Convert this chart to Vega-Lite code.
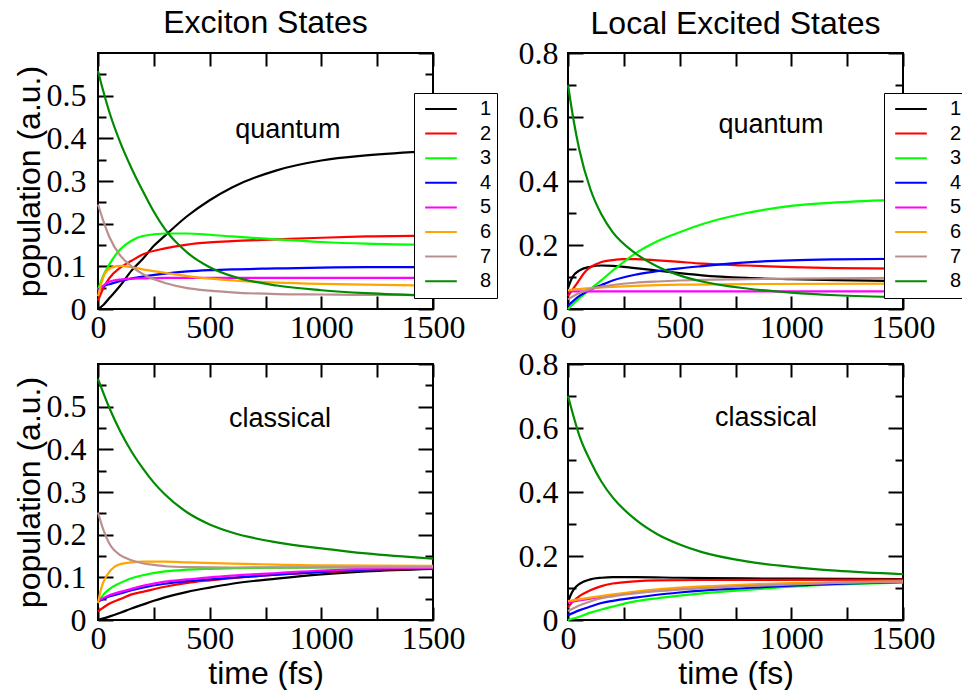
{
"$schema": "https://vega.github.io/schema/vega-lite/v6.json",
"padding": {"left": 12, "top": 6, "right": 0, "bottom": 0},
"background": "white",
"bounds": "flush",
"columns": 2,
"spacing": {"row": 55, "column": 135},
"resolve": {"legend": {"color": "independent"}},
"config": {
  "view": {"stroke": "black", "strokeWidth": 2},
  "axis": {"domain": false, "grid": false, "tickColor": "black", "tickWidth": 2, "labelColor": "black", "labelFont": "Liberation Serif", "labelFontSize": 32, "titleFont": "Liberation Sans", "titleFontSize": 32, "titleFontWeight": "normal", "titleColor": "black", "labelFlush": false, "labelOverlap": false},
  "title": {"font": "Liberation Sans", "fontSize": 32, "fontWeight": "normal", "color": "black", "anchor": "middle", "frame": "group", "baseline": "alphabetic"},
  "legend": {"orient": "none", "legendX": 316, "legendY": 40, "title": null, "symbolType": "stroke", "symbolStrokeWidth": 2, "symbolSize": 1000, "symbolOffset": 5, "clipHeight": 22, "labelFont": "Liberation Sans", "labelFontSize": 20, "labelColor": "black", "labelOffset": 22, "strokeColor": "black", "fillColor": "white", "padding": 5, "rowPadding": 2.6}
},
"datasets": {"d": [
{"p":"EQ","s":"1","t":0,"v":0},{"p":"EQ","s":"1","t":25,"v":0.01},{"p":"EQ","s":"1","t":50,"v":0.025},{"p":"EQ","s":"1","t":100,"v":0.055},{"p":"EQ","s":"1","t":150,"v":0.09},{"p":"EQ","s":"1","t":200,"v":0.117},{"p":"EQ","s":"1","t":250,"v":0.148},{"p":"EQ","s":"1","t":300,"v":0.172},{"p":"EQ","s":"1","t":400,"v":0.218},{"p":"EQ","s":"1","t":500,"v":0.255},{"p":"EQ","s":"1","t":600,"v":0.285},{"p":"EQ","s":"1","t":800,"v":0.325},{"p":"EQ","s":"1","t":1000,"v":0.348},{"p":"EQ","s":"1","t":1200,"v":0.36},{"p":"EQ","s":"1","t":1500,"v":0.37},
{"p":"EQ","s":"2","t":0,"v":0.02},{"p":"EQ","s":"2","t":25,"v":0.05},{"p":"EQ","s":"2","t":50,"v":0.072},{"p":"EQ","s":"2","t":100,"v":0.097},{"p":"EQ","s":"2","t":150,"v":0.113},{"p":"EQ","s":"2","t":200,"v":0.128},{"p":"EQ","s":"2","t":300,"v":0.142},{"p":"EQ","s":"2","t":400,"v":0.151},{"p":"EQ","s":"2","t":500,"v":0.156},{"p":"EQ","s":"2","t":600,"v":0.159},{"p":"EQ","s":"2","t":800,"v":0.163},{"p":"EQ","s":"2","t":1000,"v":0.167},{"p":"EQ","s":"2","t":1200,"v":0.17},{"p":"EQ","s":"2","t":1500,"v":0.172},
{"p":"EQ","s":"3","t":0,"v":0.045},{"p":"EQ","s":"3","t":25,"v":0.08},{"p":"EQ","s":"3","t":50,"v":0.104},{"p":"EQ","s":"3","t":100,"v":0.14},{"p":"EQ","s":"3","t":150,"v":0.16},{"p":"EQ","s":"3","t":200,"v":0.171},{"p":"EQ","s":"3","t":300,"v":0.177},{"p":"EQ","s":"3","t":400,"v":0.177},{"p":"EQ","s":"3","t":500,"v":0.174},{"p":"EQ","s":"3","t":600,"v":0.17},{"p":"EQ","s":"3","t":800,"v":0.163},{"p":"EQ","s":"3","t":1000,"v":0.157},{"p":"EQ","s":"3","t":1200,"v":0.153},{"p":"EQ","s":"3","t":1500,"v":0.15},
{"p":"EQ","s":"4","t":0,"v":0.045},{"p":"EQ","s":"4","t":25,"v":0.054},{"p":"EQ","s":"4","t":50,"v":0.058},{"p":"EQ","s":"4","t":100,"v":0.066},{"p":"EQ","s":"4","t":200,"v":0.076},{"p":"EQ","s":"4","t":300,"v":0.083},{"p":"EQ","s":"4","t":400,"v":0.088},{"p":"EQ","s":"4","t":500,"v":0.091},{"p":"EQ","s":"4","t":600,"v":0.093},{"p":"EQ","s":"4","t":800,"v":0.095},{"p":"EQ","s":"4","t":1000,"v":0.097},{"p":"EQ","s":"4","t":1200,"v":0.098},{"p":"EQ","s":"4","t":1500,"v":0.098},
{"p":"EQ","s":"5","t":0,"v":0.04},{"p":"EQ","s":"5","t":25,"v":0.055},{"p":"EQ","s":"5","t":50,"v":0.064},{"p":"EQ","s":"5","t":100,"v":0.069},{"p":"EQ","s":"5","t":200,"v":0.072},{"p":"EQ","s":"5","t":300,"v":0.073},{"p":"EQ","s":"5","t":500,"v":0.073},{"p":"EQ","s":"5","t":1000,"v":0.073},{"p":"EQ","s":"5","t":1500,"v":0.073},
{"p":"EQ","s":"6","t":0,"v":0.03},{"p":"EQ","s":"6","t":15,"v":0.06},{"p":"EQ","s":"6","t":30,"v":0.082},{"p":"EQ","s":"6","t":60,"v":0.097},{"p":"EQ","s":"6","t":100,"v":0.101},{"p":"EQ","s":"6","t":150,"v":0.098},{"p":"EQ","s":"6","t":200,"v":0.093},{"p":"EQ","s":"6","t":300,"v":0.085},{"p":"EQ","s":"6","t":400,"v":0.077},{"p":"EQ","s":"6","t":500,"v":0.071},{"p":"EQ","s":"6","t":600,"v":0.067},{"p":"EQ","s":"6","t":800,"v":0.062},{"p":"EQ","s":"6","t":1000,"v":0.059},{"p":"EQ","s":"6","t":1200,"v":0.057},{"p":"EQ","s":"6","t":1500,"v":0.055},
{"p":"EQ","s":"7","t":0,"v":0.245},{"p":"EQ","s":"7","t":25,"v":0.205},{"p":"EQ","s":"7","t":50,"v":0.17},{"p":"EQ","s":"7","t":100,"v":0.125},{"p":"EQ","s":"7","t":150,"v":0.1},{"p":"EQ","s":"7","t":200,"v":0.082},{"p":"EQ","s":"7","t":250,"v":0.07},{"p":"EQ","s":"7","t":300,"v":0.061},{"p":"EQ","s":"7","t":400,"v":0.049},{"p":"EQ","s":"7","t":500,"v":0.043},{"p":"EQ","s":"7","t":600,"v":0.039},{"p":"EQ","s":"7","t":800,"v":0.035},{"p":"EQ","s":"7","t":1000,"v":0.034},{"p":"EQ","s":"7","t":1200,"v":0.033},{"p":"EQ","s":"7","t":1500,"v":0.033},
{"p":"EQ","s":"8","t":0,"v":0.558},{"p":"EQ","s":"8","t":25,"v":0.508},{"p":"EQ","s":"8","t":50,"v":0.463},{"p":"EQ","s":"8","t":100,"v":0.39},{"p":"EQ","s":"8","t":150,"v":0.33},{"p":"EQ","s":"8","t":200,"v":0.277},{"p":"EQ","s":"8","t":250,"v":0.228},{"p":"EQ","s":"8","t":300,"v":0.187},{"p":"EQ","s":"8","t":400,"v":0.132},{"p":"EQ","s":"8","t":500,"v":0.098},{"p":"EQ","s":"8","t":600,"v":0.077},{"p":"EQ","s":"8","t":800,"v":0.055},{"p":"EQ","s":"8","t":1000,"v":0.044},{"p":"EQ","s":"8","t":1200,"v":0.037},{"p":"EQ","s":"8","t":1500,"v":0.031},

{"p":"LQ","s":"1","t":0,"v":0.065},{"p":"LQ","s":"1","t":20,"v":0.1},{"p":"LQ","s":"1","t":50,"v":0.12},{"p":"LQ","s":"1","t":100,"v":0.132},{"p":"LQ","s":"1","t":150,"v":0.136},{"p":"LQ","s":"1","t":200,"v":0.135},{"p":"LQ","s":"1","t":300,"v":0.128},{"p":"LQ","s":"1","t":400,"v":0.12},{"p":"LQ","s":"1","t":500,"v":0.112},{"p":"LQ","s":"1","t":600,"v":0.105},{"p":"LQ","s":"1","t":800,"v":0.097},{"p":"LQ","s":"1","t":1000,"v":0.093},{"p":"LQ","s":"1","t":1200,"v":0.09},{"p":"LQ","s":"1","t":1500,"v":0.087},
{"p":"LQ","s":"2","t":0,"v":0.04},{"p":"LQ","s":"2","t":25,"v":0.065},{"p":"LQ","s":"2","t":50,"v":0.09},{"p":"LQ","s":"2","t":75,"v":0.115},{"p":"LQ","s":"2","t":100,"v":0.13},{"p":"LQ","s":"2","t":150,"v":0.147},{"p":"LQ","s":"2","t":200,"v":0.153},{"p":"LQ","s":"2","t":250,"v":0.156},{"p":"LQ","s":"2","t":300,"v":0.156},{"p":"LQ","s":"2","t":400,"v":0.152},{"p":"LQ","s":"2","t":500,"v":0.147},{"p":"LQ","s":"2","t":600,"v":0.142},{"p":"LQ","s":"2","t":800,"v":0.136},{"p":"LQ","s":"2","t":1000,"v":0.131},{"p":"LQ","s":"2","t":1200,"v":0.128},{"p":"LQ","s":"2","t":1500,"v":0.126},
{"p":"LQ","s":"3","t":0,"v":0},{"p":"LQ","s":"3","t":50,"v":0.033},{"p":"LQ","s":"3","t":100,"v":0.062},{"p":"LQ","s":"3","t":150,"v":0.09},{"p":"LQ","s":"3","t":200,"v":0.12},{"p":"LQ","s":"3","t":250,"v":0.147},{"p":"LQ","s":"3","t":300,"v":0.173},{"p":"LQ","s":"3","t":400,"v":0.212},{"p":"LQ","s":"3","t":500,"v":0.24},{"p":"LQ","s":"3","t":600,"v":0.265},{"p":"LQ","s":"3","t":800,"v":0.3},{"p":"LQ","s":"3","t":1000,"v":0.322},{"p":"LQ","s":"3","t":1200,"v":0.333},{"p":"LQ","s":"3","t":1500,"v":0.342},
{"p":"LQ","s":"4","t":0,"v":0.01},{"p":"LQ","s":"4","t":50,"v":0.04},{"p":"LQ","s":"4","t":100,"v":0.06},{"p":"LQ","s":"4","t":150,"v":0.075},{"p":"LQ","s":"4","t":200,"v":0.089},{"p":"LQ","s":"4","t":300,"v":0.107},{"p":"LQ","s":"4","t":400,"v":0.118},{"p":"LQ","s":"4","t":500,"v":0.127},{"p":"LQ","s":"4","t":600,"v":0.134},{"p":"LQ","s":"4","t":800,"v":0.146},{"p":"LQ","s":"4","t":1000,"v":0.152},{"p":"LQ","s":"4","t":1200,"v":0.155},{"p":"LQ","s":"4","t":1500,"v":0.157},
{"p":"LQ","s":"5","t":0,"v":0.055},{"p":"LQ","s":"5","t":500,"v":0.055},{"p":"LQ","s":"5","t":1000,"v":0.055},{"p":"LQ","s":"5","t":1500,"v":0.055},
{"p":"LQ","s":"6","t":0,"v":0.059},{"p":"LQ","s":"6","t":100,"v":0.065},{"p":"LQ","s":"6","t":200,"v":0.069},{"p":"LQ","s":"6","t":300,"v":0.072},{"p":"LQ","s":"6","t":500,"v":0.076},{"p":"LQ","s":"6","t":800,"v":0.078},{"p":"LQ","s":"6","t":1500,"v":0.079},
{"p":"LQ","s":"7","t":0,"v":0.03},{"p":"LQ","s":"7","t":50,"v":0.05},{"p":"LQ","s":"7","t":100,"v":0.062},{"p":"LQ","s":"7","t":150,"v":0.07},{"p":"LQ","s":"7","t":200,"v":0.075},{"p":"LQ","s":"7","t":300,"v":0.082},{"p":"LQ","s":"7","t":400,"v":0.086},{"p":"LQ","s":"7","t":500,"v":0.089},{"p":"LQ","s":"7","t":600,"v":0.091},{"p":"LQ","s":"7","t":800,"v":0.093},{"p":"LQ","s":"7","t":1000,"v":0.095},{"p":"LQ","s":"7","t":1500,"v":0.097},
{"p":"LQ","s":"8","t":0,"v":0.7},{"p":"LQ","s":"8","t":25,"v":0.59},{"p":"LQ","s":"8","t":50,"v":0.5},{"p":"LQ","s":"8","t":100,"v":0.375},{"p":"LQ","s":"8","t":150,"v":0.295},{"p":"LQ","s":"8","t":200,"v":0.24},{"p":"LQ","s":"8","t":300,"v":0.175},{"p":"LQ","s":"8","t":400,"v":0.133},{"p":"LQ","s":"8","t":500,"v":0.105},{"p":"LQ","s":"8","t":600,"v":0.086},{"p":"LQ","s":"8","t":800,"v":0.064},{"p":"LQ","s":"8","t":1000,"v":0.051},{"p":"LQ","s":"8","t":1200,"v":0.043},{"p":"LQ","s":"8","t":1500,"v":0.037},

{"p":"EC","s":"1","t":0,"v":0},{"p":"EC","s":"1","t":50,"v":0.008},{"p":"EC","s":"1","t":100,"v":0.017},{"p":"EC","s":"1","t":150,"v":0.027},{"p":"EC","s":"1","t":200,"v":0.036},{"p":"EC","s":"1","t":250,"v":0.045},{"p":"EC","s":"1","t":300,"v":0.053},{"p":"EC","s":"1","t":400,"v":0.066},{"p":"EC","s":"1","t":500,"v":0.076},{"p":"EC","s":"1","t":600,"v":0.085},{"p":"EC","s":"1","t":800,"v":0.097},{"p":"EC","s":"1","t":1000,"v":0.107},{"p":"EC","s":"1","t":1200,"v":0.114},{"p":"EC","s":"1","t":1500,"v":0.12},
{"p":"EC","s":"2","t":0,"v":0.02},{"p":"EC","s":"2","t":50,"v":0.038},{"p":"EC","s":"2","t":100,"v":0.049},{"p":"EC","s":"2","t":150,"v":0.06},{"p":"EC","s":"2","t":200,"v":0.066},{"p":"EC","s":"2","t":300,"v":0.078},{"p":"EC","s":"2","t":400,"v":0.087},{"p":"EC","s":"2","t":500,"v":0.093},{"p":"EC","s":"2","t":600,"v":0.098},{"p":"EC","s":"2","t":800,"v":0.106},{"p":"EC","s":"2","t":1000,"v":0.112},{"p":"EC","s":"2","t":1200,"v":0.117},{"p":"EC","s":"2","t":1500,"v":0.121},
{"p":"EC","s":"3","t":0,"v":0.04},{"p":"EC","s":"3","t":25,"v":0.06},{"p":"EC","s":"3","t":50,"v":0.072},{"p":"EC","s":"3","t":100,"v":0.087},{"p":"EC","s":"3","t":150,"v":0.098},{"p":"EC","s":"3","t":200,"v":0.105},{"p":"EC","s":"3","t":300,"v":0.114},{"p":"EC","s":"3","t":400,"v":0.118},{"p":"EC","s":"3","t":500,"v":0.12},{"p":"EC","s":"3","t":700,"v":0.122},{"p":"EC","s":"3","t":1000,"v":0.123},{"p":"EC","s":"3","t":1500,"v":0.124},
{"p":"EC","s":"4","t":0,"v":0.043},{"p":"EC","s":"4","t":50,"v":0.055},{"p":"EC","s":"4","t":100,"v":0.062},{"p":"EC","s":"4","t":150,"v":0.07},{"p":"EC","s":"4","t":200,"v":0.076},{"p":"EC","s":"4","t":300,"v":0.085},{"p":"EC","s":"4","t":400,"v":0.091},{"p":"EC","s":"4","t":500,"v":0.095},{"p":"EC","s":"4","t":600,"v":0.099},{"p":"EC","s":"4","t":800,"v":0.106},{"p":"EC","s":"4","t":1000,"v":0.113},{"p":"EC","s":"4","t":1200,"v":0.118},{"p":"EC","s":"4","t":1500,"v":0.121},
{"p":"EC","s":"5","t":0,"v":0.045},{"p":"EC","s":"5","t":50,"v":0.058},{"p":"EC","s":"5","t":100,"v":0.066},{"p":"EC","s":"5","t":150,"v":0.073},{"p":"EC","s":"5","t":200,"v":0.08},{"p":"EC","s":"5","t":300,"v":0.09},{"p":"EC","s":"5","t":400,"v":0.095},{"p":"EC","s":"5","t":500,"v":0.1},{"p":"EC","s":"5","t":600,"v":0.104},{"p":"EC","s":"5","t":800,"v":0.11},{"p":"EC","s":"5","t":1000,"v":0.116},{"p":"EC","s":"5","t":1200,"v":0.12},{"p":"EC","s":"5","t":1500,"v":0.122},
{"p":"EC","s":"6","t":0,"v":0.04},{"p":"EC","s":"6","t":15,"v":0.075},{"p":"EC","s":"6","t":40,"v":0.105},{"p":"EC","s":"6","t":75,"v":0.125},{"p":"EC","s":"6","t":100,"v":0.131},{"p":"EC","s":"6","t":150,"v":0.135},{"p":"EC","s":"6","t":200,"v":0.137},{"p":"EC","s":"6","t":300,"v":0.137},{"p":"EC","s":"6","t":400,"v":0.135},{"p":"EC","s":"6","t":600,"v":0.132},{"p":"EC","s":"6","t":800,"v":0.13},{"p":"EC","s":"6","t":1000,"v":0.128},{"p":"EC","s":"6","t":1500,"v":0.127},
{"p":"EC","s":"7","t":0,"v":0.252},{"p":"EC","s":"7","t":25,"v":0.21},{"p":"EC","s":"7","t":50,"v":0.18},{"p":"EC","s":"7","t":100,"v":0.152},{"p":"EC","s":"7","t":150,"v":0.14},{"p":"EC","s":"7","t":200,"v":0.133},{"p":"EC","s":"7","t":250,"v":0.129},{"p":"EC","s":"7","t":300,"v":0.126},{"p":"EC","s":"7","t":400,"v":0.124},{"p":"EC","s":"7","t":600,"v":0.123},{"p":"EC","s":"7","t":1500,"v":0.124},
{"p":"EC","s":"8","t":0,"v":0.565},{"p":"EC","s":"8","t":50,"v":0.498},{"p":"EC","s":"8","t":100,"v":0.442},{"p":"EC","s":"8","t":150,"v":0.395},{"p":"EC","s":"8","t":200,"v":0.356},{"p":"EC","s":"8","t":250,"v":0.322},{"p":"EC","s":"8","t":300,"v":0.294},{"p":"EC","s":"8","t":400,"v":0.252},{"p":"EC","s":"8","t":500,"v":0.224},{"p":"EC","s":"8","t":600,"v":0.205},{"p":"EC","s":"8","t":800,"v":0.182},{"p":"EC","s":"8","t":1000,"v":0.168},{"p":"EC","s":"8","t":1200,"v":0.156},{"p":"EC","s":"8","t":1500,"v":0.144},

{"p":"LC","s":"1","t":0,"v":0.055},{"p":"LC","s":"1","t":10,"v":0.075},{"p":"LC","s":"1","t":25,"v":0.095},{"p":"LC","s":"1","t":50,"v":0.112},{"p":"LC","s":"1","t":100,"v":0.127},{"p":"LC","s":"1","t":150,"v":0.132},{"p":"LC","s":"1","t":200,"v":0.134},{"p":"LC","s":"1","t":300,"v":0.134},{"p":"LC","s":"1","t":500,"v":0.132},{"p":"LC","s":"1","t":800,"v":0.13},{"p":"LC","s":"1","t":1000,"v":0.129},{"p":"LC","s":"1","t":1500,"v":0.128},
{"p":"LC","s":"2","t":0,"v":0.04},{"p":"LC","s":"2","t":25,"v":0.06},{"p":"LC","s":"2","t":50,"v":0.074},{"p":"LC","s":"2","t":100,"v":0.093},{"p":"LC","s":"2","t":150,"v":0.106},{"p":"LC","s":"2","t":200,"v":0.114},{"p":"LC","s":"2","t":300,"v":0.121},{"p":"LC","s":"2","t":400,"v":0.124},{"p":"LC","s":"2","t":600,"v":0.125},{"p":"LC","s":"2","t":1500,"v":0.126},
{"p":"LC","s":"3","t":0,"v":0},{"p":"LC","s":"3","t":50,"v":0.01},{"p":"LC","s":"3","t":100,"v":0.023},{"p":"LC","s":"3","t":150,"v":0.033},{"p":"LC","s":"3","t":200,"v":0.042},{"p":"LC","s":"3","t":300,"v":0.058},{"p":"LC","s":"3","t":400,"v":0.068},{"p":"LC","s":"3","t":500,"v":0.076},{"p":"LC","s":"3","t":600,"v":0.083},{"p":"LC","s":"3","t":800,"v":0.094},{"p":"LC","s":"3","t":1000,"v":0.104},{"p":"LC","s":"3","t":1200,"v":0.111},{"p":"LC","s":"3","t":1500,"v":0.117},
{"p":"LC","s":"4","t":0,"v":0.015},{"p":"LC","s":"4","t":50,"v":0.03},{"p":"LC","s":"4","t":100,"v":0.042},{"p":"LC","s":"4","t":150,"v":0.053},{"p":"LC","s":"4","t":200,"v":0.06},{"p":"LC","s":"4","t":300,"v":0.07},{"p":"LC","s":"4","t":400,"v":0.079},{"p":"LC","s":"4","t":500,"v":0.086},{"p":"LC","s":"4","t":600,"v":0.092},{"p":"LC","s":"4","t":800,"v":0.1},{"p":"LC","s":"4","t":1000,"v":0.107},{"p":"LC","s":"4","t":1200,"v":0.113},{"p":"LC","s":"4","t":1500,"v":0.119},
{"p":"LC","s":"5","t":0,"v":0.055},{"p":"LC","s":"5","t":100,"v":0.067},{"p":"LC","s":"5","t":200,"v":0.077},{"p":"LC","s":"5","t":300,"v":0.086},{"p":"LC","s":"5","t":400,"v":0.093},{"p":"LC","s":"5","t":500,"v":0.098},{"p":"LC","s":"5","t":600,"v":0.102},{"p":"LC","s":"5","t":800,"v":0.108},{"p":"LC","s":"5","t":1000,"v":0.113},{"p":"LC","s":"5","t":1200,"v":0.116},{"p":"LC","s":"5","t":1500,"v":0.119},
{"p":"LC","s":"6","t":0,"v":0.059},{"p":"LC","s":"6","t":100,"v":0.07},{"p":"LC","s":"6","t":200,"v":0.08},{"p":"LC","s":"6","t":300,"v":0.089},{"p":"LC","s":"6","t":400,"v":0.096},{"p":"LC","s":"6","t":500,"v":0.101},{"p":"LC","s":"6","t":600,"v":0.105},{"p":"LC","s":"6","t":800,"v":0.111},{"p":"LC","s":"6","t":1000,"v":0.115},{"p":"LC","s":"6","t":1200,"v":0.118},{"p":"LC","s":"6","t":1500,"v":0.121},
{"p":"LC","s":"7","t":0,"v":0.028},{"p":"LC","s":"7","t":50,"v":0.045},{"p":"LC","s":"7","t":100,"v":0.058},{"p":"LC","s":"7","t":150,"v":0.068},{"p":"LC","s":"7","t":200,"v":0.074},{"p":"LC","s":"7","t":300,"v":0.083},{"p":"LC","s":"7","t":400,"v":0.09},{"p":"LC","s":"7","t":500,"v":0.095},{"p":"LC","s":"7","t":600,"v":0.099},{"p":"LC","s":"7","t":800,"v":0.106},{"p":"LC","s":"7","t":1000,"v":0.111},{"p":"LC","s":"7","t":1200,"v":0.116},{"p":"LC","s":"7","t":1500,"v":0.121},
{"p":"LC","s":"8","t":0,"v":0.7},{"p":"LC","s":"8","t":25,"v":0.636},{"p":"LC","s":"8","t":50,"v":0.578},{"p":"LC","s":"8","t":100,"v":0.497},{"p":"LC","s":"8","t":150,"v":0.432},{"p":"LC","s":"8","t":200,"v":0.383},{"p":"LC","s":"8","t":300,"v":0.315},{"p":"LC","s":"8","t":400,"v":0.268},{"p":"LC","s":"8","t":500,"v":0.236},{"p":"LC","s":"8","t":600,"v":0.212},{"p":"LC","s":"8","t":800,"v":0.183},{"p":"LC","s":"8","t":1000,"v":0.166},{"p":"LC","s":"8","t":1200,"v":0.154},{"p":"LC","s":"8","t":1500,"v":0.143}
]},
"concat": [
{
 "width": 335, "height": 256,
 "title": {"text": "Exciton States", "offset": 12},
 "data": {"name": "d"},
 "layer": [
  {"transform": [{"filter": "datum.p == 'EQ'"}],
   "mark": {"type": "line", "strokeWidth": 2.2, "interpolate": "monotone"},
   "encoding": {
    "x": {"field": "t", "type": "quantitative", "scale": {"domain": [0, 1500], "nice": false}, "axis": {"orient": "bottom", "values": [0,250,500,750,1000,1250,1500], "format": "d", "labelExpr": "datum.value % 500 == 0 ? datum.label : ''", "tickSize": -13, "labelPadding": 16, "title": null}},
    "y": {"field": "v", "type": "quantitative", "scale": {"domain": [0, 0.6], "nice": false}, "axis": {"orient": "left", "values": [0,0.1,0.2,0.3,0.4,0.5], "labelExpr": "datum.value == 0 ? '0' : format(datum.value, '.1f')", "tickSize": -15, "labelPadding": 27, "title": "population (a.u.)", "titlePadding": 0}},
    "color": {"field": "s", "type": "nominal", "scale": {"domain": ["1","2","3","4","5","6","7","8"], "range": ["#000000","#ff0000","#00ff00","#0000ff","#ff00ff","#ffa500","#bc8f8f","#008b00"]}}
   }},
  {"transform": [{"filter": "datum.p == 'EQ'"}],
   "mark": {"type": "point", "opacity": 0},
   "encoding": {
    "x": {"field": "t", "type": "quantitative", "scale": {"domain": [0, 1500], "nice": false}, "axis": {"orient": "top", "values": [0,250,500,750,1000,1250,1500], "labels": false, "tickSize": -13, "title": null}},
    "y": {"field": "v", "type": "quantitative", "scale": {"domain": [0, 0.6], "nice": false}, "axis": {"orient": "right", "values": [0,0.1,0.2,0.3,0.4,0.5,0.6], "labels": false, "tickSize": -15, "title": null}}
   }},
  {"transform": [{"filter": "datum.p == 'EQ'"}],
   "mark": {"type": "point", "opacity": 0},
   "encoding": {
    "x": {"field": "t", "type": "quantitative", "scale": {"domain": [0, 1500], "nice": false}, "axis": null},
    "y": {"field": "v", "type": "quantitative", "scale": {"domain": [0, 0.6], "nice": false}, "axis": {"orient": "left", "values": [0.05,0.15,0.25,0.35,0.45,0.55], "labels": false, "tickSize": -8, "title": null}}
   }},
  {"transform": [{"filter": "datum.p == 'EQ'"}],
   "mark": {"type": "point", "opacity": 0},
   "encoding": {
    "x": {"field": "t", "type": "quantitative", "scale": {"domain": [0, 1500], "nice": false}, "axis": null},
    "y": {"field": "v", "type": "quantitative", "scale": {"domain": [0, 0.6], "nice": false}, "axis": {"orient": "right", "values": [0.05,0.15,0.25,0.35,0.45,0.55], "labels": false, "tickSize": -8, "title": null}}
   }},
  {"data": {"values": [{}]},
   "mark": {"type": "text", "font": "Liberation Sans", "fontSize": 27, "color": "black", "align": "center", "baseline": "middle"},
   "encoding": {
    "x": {"datum": 850, "type": "quantitative", "scale": {"domain": [0, 1500], "nice": false}, "axis": null},
    "y": {"datum": 0.42, "type": "quantitative", "scale": {"domain": [0, 0.6], "nice": false}, "axis": null},
    "text": {"value": "quantum"}
   }}
 ],
 "resolve": {"axis": {"x": "independent", "y": "independent"}}
},
{
 "width": 335, "height": 256,
 "title": {"text": "Local Excited States", "offset": -4},
 "data": {"name": "d"},
 "layer": [
  {"transform": [{"filter": "datum.p == 'LQ'"}],
   "mark": {"type": "line", "strokeWidth": 2.2, "interpolate": "monotone"},
   "encoding": {
    "x": {"field": "t", "type": "quantitative", "scale": {"domain": [0, 1500], "nice": false}, "axis": {"orient": "bottom", "values": [0,250,500,750,1000,1250,1500], "format": "d", "labelExpr": "datum.value % 500 == 0 ? datum.label : ''", "tickSize": -13, "labelPadding": 16, "title": null}},
    "y": {"field": "v", "type": "quantitative", "scale": {"domain": [0, 0.8], "nice": false}, "axis": {"orient": "left", "values": [0,0.2,0.4,0.6,0.8], "labelExpr": "datum.value == 0 ? '0' : format(datum.value, '.1f')", "tickSize": -15, "labelPadding": 25, "title": null}},
    "color": {"field": "s", "type": "nominal", "scale": {"domain": ["1","2","3","4","5","6","7","8"], "range": ["#000000","#ff0000","#00ff00","#0000ff","#ff00ff","#ffa500","#bc8f8f","#008b00"]}}
   }},
  {"transform": [{"filter": "datum.p == 'LQ'"}],
   "mark": {"type": "point", "opacity": 0},
   "encoding": {
    "x": {"field": "t", "type": "quantitative", "scale": {"domain": [0, 1500], "nice": false}, "axis": {"orient": "top", "values": [0,250,500,750,1000,1250,1500], "labels": false, "tickSize": -13, "title": null}},
    "y": {"field": "v", "type": "quantitative", "scale": {"domain": [0, 0.8], "nice": false}, "axis": {"orient": "right", "values": [0,0.2,0.4,0.6,0.8], "labels": false, "tickSize": -15, "title": null}}
   }},
  {"transform": [{"filter": "datum.p == 'LQ'"}],
   "mark": {"type": "point", "opacity": 0},
   "encoding": {
    "x": {"field": "t", "type": "quantitative", "scale": {"domain": [0, 1500], "nice": false}, "axis": null},
    "y": {"field": "v", "type": "quantitative", "scale": {"domain": [0, 0.8], "nice": false}, "axis": {"orient": "left", "values": [0.1,0.3,0.5,0.7], "labels": false, "tickSize": -8, "title": null}}
   }},
  {"transform": [{"filter": "datum.p == 'LQ'"}],
   "mark": {"type": "point", "opacity": 0},
   "encoding": {
    "x": {"field": "t", "type": "quantitative", "scale": {"domain": [0, 1500], "nice": false}, "axis": null},
    "y": {"field": "v", "type": "quantitative", "scale": {"domain": [0, 0.8], "nice": false}, "axis": {"orient": "right", "values": [0.1,0.3,0.5,0.7], "labels": false, "tickSize": -8, "title": null}}
   }},
  {"data": {"values": [{}]},
   "mark": {"type": "text", "font": "Liberation Sans", "fontSize": 27, "color": "black", "align": "center", "baseline": "middle"},
   "encoding": {
    "x": {"datum": 909, "type": "quantitative", "scale": {"domain": [0, 1500], "nice": false}, "axis": null},
    "y": {"datum": 0.574, "type": "quantitative", "scale": {"domain": [0, 0.8], "nice": false}, "axis": null},
    "text": {"value": "quantum"}
   }}
 ],
 "resolve": {"axis": {"x": "independent", "y": "independent"}}
},
{
 "width": 335, "height": 256,
 "data": {"name": "d"},
 "layer": [
  {"transform": [{"filter": "datum.p == 'EC'"}],
   "mark": {"type": "line", "strokeWidth": 2.2, "interpolate": "monotone"},
   "encoding": {
    "x": {"field": "t", "type": "quantitative", "scale": {"domain": [0, 1500], "nice": false}, "axis": {"orient": "bottom", "values": [0,250,500,750,1000,1250,1500], "format": "d", "labelExpr": "datum.value % 500 == 0 ? datum.label : ''", "tickSize": -13, "labelPadding": 16, "title": "time (fs)", "titlePadding": 4}},
    "y": {"field": "v", "type": "quantitative", "scale": {"domain": [0, 0.6], "nice": false}, "axis": {"orient": "left", "values": [0,0.1,0.2,0.3,0.4,0.5], "labelExpr": "datum.value == 0 ? '0' : format(datum.value, '.1f')", "tickSize": -15, "labelPadding": 27, "title": "population (a.u.)", "titlePadding": 0}},
    "color": {"field": "s", "type": "nominal", "scale": {"domain": ["1","2","3","4","5","6","7","8"], "range": ["#000000","#ff0000","#00ff00","#0000ff","#ff00ff","#ffa500","#bc8f8f","#008b00"]}, "legend": null}
   }},
  {"transform": [{"filter": "datum.p == 'EC'"}],
   "mark": {"type": "point", "opacity": 0},
   "encoding": {
    "x": {"field": "t", "type": "quantitative", "scale": {"domain": [0, 1500], "nice": false}, "axis": {"orient": "top", "values": [0,250,500,750,1000,1250,1500], "labels": false, "tickSize": -13, "title": null}},
    "y": {"field": "v", "type": "quantitative", "scale": {"domain": [0, 0.6], "nice": false}, "axis": {"orient": "right", "values": [0,0.1,0.2,0.3,0.4,0.5,0.6], "labels": false, "tickSize": -15, "title": null}}
   }},
  {"transform": [{"filter": "datum.p == 'EC'"}],
   "mark": {"type": "point", "opacity": 0},
   "encoding": {
    "x": {"field": "t", "type": "quantitative", "scale": {"domain": [0, 1500], "nice": false}, "axis": null},
    "y": {"field": "v", "type": "quantitative", "scale": {"domain": [0, 0.6], "nice": false}, "axis": {"orient": "left", "values": [0.05,0.15,0.25,0.35,0.45,0.55], "labels": false, "tickSize": -8, "title": null}}
   }},
  {"transform": [{"filter": "datum.p == 'EC'"}],
   "mark": {"type": "point", "opacity": 0},
   "encoding": {
    "x": {"field": "t", "type": "quantitative", "scale": {"domain": [0, 1500], "nice": false}, "axis": null},
    "y": {"field": "v", "type": "quantitative", "scale": {"domain": [0, 0.6], "nice": false}, "axis": {"orient": "right", "values": [0.05,0.15,0.25,0.35,0.45,0.55], "labels": false, "tickSize": -8, "title": null}}
   }},
  {"data": {"values": [{}]},
   "mark": {"type": "text", "font": "Liberation Sans", "fontSize": 27, "color": "black", "align": "center", "baseline": "middle"},
   "encoding": {
    "x": {"datum": 815, "type": "quantitative", "scale": {"domain": [0, 1500], "nice": false}, "axis": null},
    "y": {"datum": 0.472, "type": "quantitative", "scale": {"domain": [0, 0.6], "nice": false}, "axis": null},
    "text": {"value": "classical"}
   }}
 ],
 "resolve": {"axis": {"x": "independent", "y": "independent"}}
},
{
 "width": 335, "height": 256,
 "data": {"name": "d"},
 "layer": [
  {"transform": [{"filter": "datum.p == 'LC'"}],
   "mark": {"type": "line", "strokeWidth": 2.2, "interpolate": "monotone"},
   "encoding": {
    "x": {"field": "t", "type": "quantitative", "scale": {"domain": [0, 1500], "nice": false}, "axis": {"orient": "bottom", "values": [0,250,500,750,1000,1250,1500], "format": "d", "labelExpr": "datum.value % 500 == 0 ? datum.label : ''", "tickSize": -13, "labelPadding": 16, "title": "time (fs)", "titlePadding": 4}},
    "y": {"field": "v", "type": "quantitative", "scale": {"domain": [0, 0.8], "nice": false}, "axis": {"orient": "left", "values": [0,0.2,0.4,0.6,0.8], "labelExpr": "datum.value == 0 ? '0' : format(datum.value, '.1f')", "tickSize": -15, "labelPadding": 25, "title": null}},
    "color": {"field": "s", "type": "nominal", "scale": {"domain": ["1","2","3","4","5","6","7","8"], "range": ["#000000","#ff0000","#00ff00","#0000ff","#ff00ff","#ffa500","#bc8f8f","#008b00"]}, "legend": null}
   }},
  {"transform": [{"filter": "datum.p == 'LC'"}],
   "mark": {"type": "point", "opacity": 0},
   "encoding": {
    "x": {"field": "t", "type": "quantitative", "scale": {"domain": [0, 1500], "nice": false}, "axis": {"orient": "top", "values": [0,250,500,750,1000,1250,1500], "labels": false, "tickSize": -13, "title": null}},
    "y": {"field": "v", "type": "quantitative", "scale": {"domain": [0, 0.8], "nice": false}, "axis": {"orient": "right", "values": [0,0.2,0.4,0.6,0.8], "labels": false, "tickSize": -15, "title": null}}
   }},
  {"transform": [{"filter": "datum.p == 'LC'"}],
   "mark": {"type": "point", "opacity": 0},
   "encoding": {
    "x": {"field": "t", "type": "quantitative", "scale": {"domain": [0, 1500], "nice": false}, "axis": null},
    "y": {"field": "v", "type": "quantitative", "scale": {"domain": [0, 0.8], "nice": false}, "axis": {"orient": "left", "values": [0.1,0.3,0.5,0.7], "labels": false, "tickSize": -8, "title": null}}
   }},
  {"transform": [{"filter": "datum.p == 'LC'"}],
   "mark": {"type": "point", "opacity": 0},
   "encoding": {
    "x": {"field": "t", "type": "quantitative", "scale": {"domain": [0, 1500], "nice": false}, "axis": null},
    "y": {"field": "v", "type": "quantitative", "scale": {"domain": [0, 0.8], "nice": false}, "axis": {"orient": "right", "values": [0.1,0.3,0.5,0.7], "labels": false, "tickSize": -8, "title": null}}
   }},
  {"data": {"values": [{}]},
   "mark": {"type": "text", "font": "Liberation Sans", "fontSize": 27, "color": "black", "align": "center", "baseline": "middle"},
   "encoding": {
    "x": {"datum": 887, "type": "quantitative", "scale": {"domain": [0, 1500], "nice": false}, "axis": null},
    "y": {"datum": 0.632, "type": "quantitative", "scale": {"domain": [0, 0.8], "nice": false}, "axis": null},
    "text": {"value": "classical"}
   }}
 ],
 "resolve": {"axis": {"x": "independent", "y": "independent"}}
}
]
}
